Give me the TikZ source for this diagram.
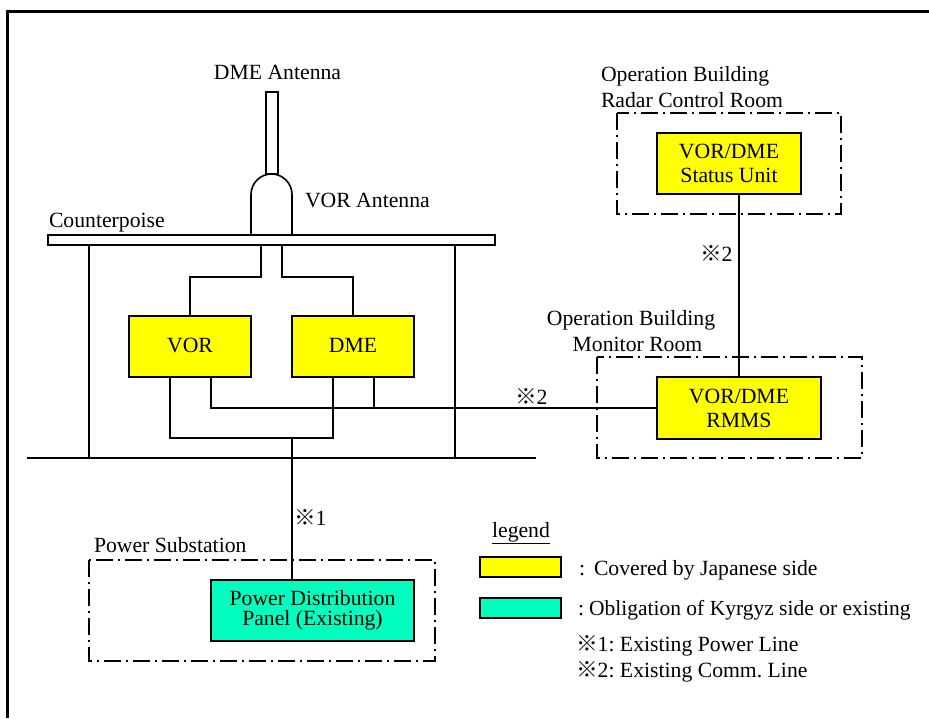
\documentclass[tikz,border=0pt]{standalone}
\usepackage{fontspec}
\setmainfont{Liberation Serif}
\newfontfamily\cjk{Noto Sans CJK JP}
\newcommand{\refmark}{{\cjk ※}}
\definecolor{japanyellow}{HTML}{FFFF00}
\definecolor{kyrgyzgreen}{HTML}{00FFBF}
\tikzset{
    label text/.style={inner sep=0pt, outer sep=0pt, font=\fontsize{21.7}{24}\selectfont\frenchspacing},
    unit box/.style={draw, line width=1.6pt, inner sep=0pt, outer sep=0pt, align=center, font=\fontsize{21.7}{24}\selectfont},
    japan side/.style={unit box, fill=japanyellow},
    kyrgyz side/.style={unit box, fill=kyrgyzgreen},
    room line/.style={line width=1.5pt, dash pattern=on 17pt off 5pt on 2pt off 5pt},
    wire/.style={line width=1.6pt}
}
\begin{document}
\begin{tikzpicture}[x=1pt, y=-1pt]
        \useasboundingbox (0,0) rectangle (929,718);
        \draw[line width=3pt] (7,718) -- (7,11) -- (929,11);

        \draw[room line] (617,113) rectangle (841,214);
        \draw[room line] (597,357) rectangle (862,458);
        \draw[room line] (89,560) rectangle (435,661);

        \node[japan side, minimum width=122pt, minimum height=61pt] (vor) at (190,346.5) {\raisebox{3pt}{VOR}};
        \node[japan side, minimum width=122pt, minimum height=61pt] (dme) at (353,346.5) {\raisebox{3pt}{DME}};
        \node[japan side, minimum width=164pt, minimum height=62pt] (rmms) at (739,408) {VOR/DME\\RMMS};
        \node[japan side, minimum width=144pt, minimum height=61pt] (status) at (729,163.5) {VOR/DME\\Status Unit};
        \node[kyrgyz side, minimum width=203pt, minimum height=61pt] (panel) at (312.5,610.5) {Power Distribution\\[-4pt]Panel (Existing)};
        \node[draw, line width=1.6pt, inner sep=0pt, outer sep=0pt, minimum width=447pt, minimum height=10pt] (counterpoise) at (271.5,240) {};
        \node[draw, line width=1.6pt, inner sep=0pt, outer sep=0pt, minimum width=12pt, minimum height=82pt] (pole) at (272,133) {};
        \node[japan side, minimum width=81pt, minimum height=20pt] (legendjp) at (520.5,567) {};
        \node[kyrgyz side, minimum width=81pt, minimum height=20pt] (legendkg) at (520.5,608) {};

        \coordinate (gndl) at (27,458);
        \coordinate (gndr) at (536,458);
        \draw[wire] (gndl) -- (gndr);

        % antenna dome
        \draw[wire] (251,235) -- (251,194.5) arc[start angle=180, end angle=360, radius=20.5] -- (292,235);

        \draw[wire] ([xshift=-10.5pt]counterpoise.south) -- ++(0,32) -| (vor.north);
        \draw[wire] ([xshift=10.5pt]counterpoise.south) -- ++(0,32) -| (dme.north);
        \draw[wire] ([xshift=-182.5pt]counterpoise.south) -- ([xshift=-182.5pt]counterpoise.south |- gndl);
        \draw[wire] ([xshift=183.5pt]counterpoise.south) -- ([xshift=183.5pt]counterpoise.south |- gndl);

        \draw[wire] ([xshift=-20pt]vor.south) -- ++(0,61) -| ([xshift=-20pt]dme.south);
        \draw[wire] ([xshift=21pt]vor.south) -- ++(0,31) -- (rmms.west);
        \draw[wire] ([xshift=21pt]dme.south) -- ++(0,31);
        \draw[wire] ([xshift=-20.5pt]panel.north) -- ++(0,-142);
        \draw[wire] ([xshift=10pt]status.south) -- (rmms.north);

        \node[label text, anchor=base] (dmeantenna) at (277.5,79) {DME Antenna};
        \node[label text, anchor=base west] (vorantenna) at (305,207) {VOR Antenna};
        \node[label text, anchor=base west] (counterlabel) at (49,227) {Counterpoise};
        \node[label text, anchor=base west] (radarbuilding) at (601,81) {Operation Building};
        \node[label text, anchor=base west] (radarroom) at (601,107) {Radar Control Room};
        \node[label text, anchor=base] (monitor) at (631,325) {Operation Building};
        \node[label text, anchor=base] (monitorroom) at (637.5,351) {Monitor Room};
        \node[label text, anchor=base west] (substation) at (94,552) {Power Substation};
        \node[label text, anchor=base west] (statusmark) at (700,261) {\refmark 2};
        \node[label text, anchor=base west] (rmmsmark) at (515,404) {\refmark 2};
        \node[label text, anchor=base west] (powermark) at (294,525) {\refmark 1};
        \node[label text, anchor=base] (legendtitle) at (521,537) {\underline{legend}};
        \node[label text, anchor=base west] (legendcolon) at (579,575) {:};
        \node[label text, anchor=base west] (legendjptext) at (594,575) {Covered by Japanese side};
        \node[label text, anchor=base west, font=\fontsize{21.5}{24}\selectfont] (legendkgtext) at (578,615) {:\hspace{-2pt} Obligation of Kyrgyz side or existing};
        \node[label text, anchor=base west] (noteone) at (576,651) {\refmark 1: Existing Power Line};
        \node[label text, anchor=base west] (notetwo) at (576,677) {\refmark 2: Existing Comm. Line};
    \end{tikzpicture}
\end{document}
